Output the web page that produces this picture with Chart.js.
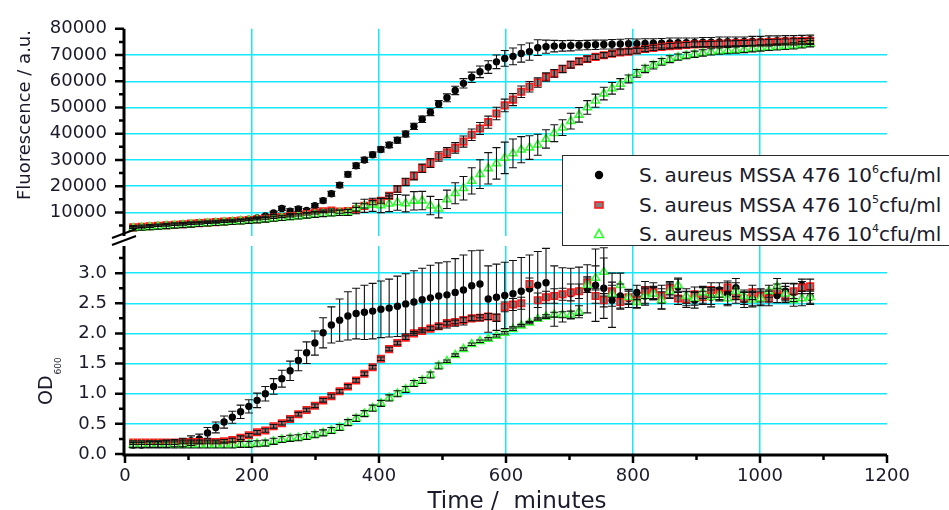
<!DOCTYPE html>
<html><head><meta charset="utf-8">
<script src="https://cdn.jsdelivr.net/npm/chart.js"></script>
<style>
html,body{margin:0;padding:0;background:#fff;}
#wrap{position:relative;width:949px;height:510px;overflow:hidden;background:#fff;font-family:"DejaVu Sans",sans-serif;}
#wrap canvas{position:absolute;left:0;top:0;}
#legend{position:absolute;left:562px;top:155px;width:420px;height:89px;border:1.5px solid #2a2a2a;background:#fff;}
.row{position:absolute;left:0;width:420px;height:24px;}
.row svg{position:absolute;left:28px;top:4px;}
.row span{position:absolute;left:76px;top:0;white-space:nowrap;font-size:20px;line-height:24px;color:#1a1a2a;}
.row sup{font-size:11px;vertical-align:9px;line-height:0;}
</style></head>
<body>
<div id="wrap">
  <canvas id="top" width="949" height="510"></canvas>
  <canvas id="bot" width="949" height="510"></canvas>
  <div id="legend"></div>
</div>
<script>
// ---------------- data ----------------
const timeMin = [13,26,39,52,65,78,91,104,117,130,
 143,156,169,182,195,208,221,234,247,260,
 273,286,299,312,325,338,351,364,377,390,
 403,416,429,442,455,468,481,494,507,520,
 533,546,559,572,585,598,611,624,637,650,
 663,676,689,702,715,728,741,754,767,780,
 793,806,819,832,845,858,871,884,897,910,
 923,936,949,962,975,988,1001,1014,1027,1040,
 1053,1066,1079];

const seriesNames = ['S. aureus MSSA 476 10', 'S. aureus MSSA 476 10', 'S. aureus MSSA 476 10'];
const seriesExp = ['6', '5', '4'];
const seriesUnit = 'cfu/ml';

// Fluorescence / a.u.
const fluor1e6 = [4200,4400,4600,4900,5100,5300,5500,5700,5900,6100,
 6300,6500,6700,7000,7400,7900,8600,9800,11500,10500,
 11300,10700,12600,14500,17100,20400,24500,27800,30000,32000,
 34000,35700,37500,39900,42800,45500,48200,51300,53700,56500,
 59200,61500,63600,65400,67400,68700,69500,70600,71300,72800,
 73200,73400,73500,73600,73700,73800,73900,74000,74100,74200,
 74300,74300,74400,74500,74500,74600,74700,74700,74800,74900,
 74900,75000,75100,75100,75200,75300,75300,75400,75500,75600,
 75600,75700,75800];
const fluor1e5 = [4300,4500,4700,4900,5100,5300,5500,5700,5900,6100,
 6300,6500,6700,6900,7100,7400,7700,8000,8300,8600,
 9000,9400,9900,10400,10700,10300,10500,11200,12500,13700,
 14400,16300,18900,21600,23900,26800,28800,31300,32800,34600,
 37000,39600,42000,44400,47700,50800,53000,56000,57900,59500,
 61600,63000,64700,66300,67600,68500,69300,69900,70500,71000,
 71300,71700,72300,72700,73100,73400,73600,73800,74000,74100,
 74200,74300,74400,74500,74600,74700,74800,74900,75000,75100,
 75200,75300,75400];
const fluor1e4 = [4000,4200,4400,4600,4800,5000,5200,5400,5600,5800,
 6000,6200,6400,6600,6800,7000,7300,7600,7900,8200,
 8500,8800,9100,9400,9600,9800,10000,11500,12500,12900,
 12700,13300,13800,13400,14400,14500,12600,11400,15000,17300,
 19200,22000,24600,26800,28700,30800,32500,33900,34700,35800,
 38000,40200,42300,44800,47200,50000,52600,55300,57300,59000,
 60900,63000,64700,66100,67400,68400,69200,69800,70300,70800,
 71200,71500,71700,71900,72100,72400,72700,72900,73100,73300,
 73500,73900,74300];
const fluorErr1e6 = [300,300,300,300,300,300,300,300,300,300,
 300,300,300,300,400,400,500,600,800,900,
 900,800,800,900,900,1000,1000,1000,1000,1000,
 1000,1000,1100,1100,1200,1200,1300,1300,1500,1600,
 1800,2000,2200,2400,2600,3000,3200,3300,3300,3000,
 2500,2200,2000,2000,1800,1800,1800,1700,1800,1800,
 1900,1800,1800,1700,1800,1900,1800,1800,1700,1800,
 1800,1900,1800,1800,1700,1800,1800,1900,1800,1800,
 1800,1800,1800];
const fluorErr1e5 = [300,300,300,300,300,300,300,300,300,300,
 300,300,300,300,300,300,300,300,300,300,
 400,400,500,500,600,600,600,700,800,800,
 900,1000,1200,1400,1500,1600,1700,1800,1900,2000,
 2100,2200,2300,2300,2400,2400,2300,2200,2000,1800,
 1600,1500,1400,1300,1200,1100,1000,1000,1000,1000,
 1000,1000,1000,1000,1000,1000,1000,1000,1000,1000,
 1000,1000,1000,1000,1000,1000,1000,1000,1000,1000,
 1000,1000,1000];
const fluorErr1e4 = [1000,1000,1000,1000,1000,1000,1000,1000,1000,1000,
 1000,1000,1000,1000,1000,1000,1000,1000,1000,1000,
 1000,1000,1000,1000,1000,1000,1200,2000,2500,2500,
 2800,3000,3000,3200,3500,3500,3500,3500,3500,4000,
 4500,5000,5500,6000,6000,6000,5500,5000,4500,4000,
 3500,3200,3000,3000,2800,2600,2500,2400,2200,2000,
 1500,1500,1400,1400,1300,1300,1200,1200,1200,1200,
 1200,1200,1200,1200,1200,1200,1200,1200,1200,1200,
 1200,1200,1200];

// OD600
const od1e6 = [0.15,0.15,0.16,0.16,0.17,0.18,0.19,0.22,0.25,0.35,
 0.44,0.53,0.61,0.70,0.79,0.89,1.00,1.12,1.25,1.38,
 1.55,1.68,1.84,2.01,2.14,2.22,2.29,2.33,2.35,2.37,
 2.40,2.42,2.45,2.49,2.52,2.56,2.59,2.62,2.64,2.68,
 2.72,2.79,2.82,2.57,2.60,2.63,2.66,2.70,2.74,2.80,
 2.84,2.62,2.64,2.66,2.70,2.74,2.80,2.75,2.55,2.62,
 2.58,2.68,2.62,2.70,2.60,2.72,2.77,2.58,2.55,2.62,
 2.60,2.72,2.66,2.76,2.56,2.58,2.60,2.62,2.63,2.70,
 2.68,2.80,2.60];
const od1e5 = [0.19,0.19,0.19,0.19,0.19,0.19,0.20,0.20,0.20,0.20,
 0.20,0.21,0.23,0.27,0.31,0.36,0.39,0.46,0.51,0.58,
 0.66,0.73,0.80,0.89,0.96,1.04,1.12,1.22,1.33,1.44,
 1.58,1.74,1.84,1.93,2.00,2.04,2.08,2.12,2.17,2.19,
 2.22,2.25,2.26,2.28,2.26,2.44,2.48,2.50,2.82,2.55,
 2.60,2.62,2.65,2.68,2.70,2.84,2.62,2.55,2.70,2.52,
 2.60,2.55,2.72,2.68,2.62,2.75,2.58,2.56,2.65,2.60,
 2.72,2.66,2.76,2.62,2.58,2.68,2.62,2.58,2.72,2.62,
 2.70,2.76,2.78];
const od1e4 = [0.15,0.15,0.15,0.15,0.15,0.15,0.15,0.15,0.15,0.15,
 0.15,0.15,0.15,0.16,0.16,0.17,0.18,0.21,0.24,0.26,
 0.27,0.29,0.32,0.35,0.39,0.44,0.52,0.59,0.67,0.76,
 0.84,0.93,1.00,1.07,1.17,1.22,1.31,1.46,1.54,1.64,
 1.74,1.82,1.87,1.91,1.96,2.01,2.07,2.13,2.18,2.24,
 2.28,2.31,2.31,2.31,2.36,2.80,2.92,3.02,2.65,2.80,
 2.60,2.52,2.62,2.66,2.55,2.70,2.80,2.62,2.58,2.68,
 2.60,2.64,2.58,2.70,2.62,2.56,2.58,2.70,2.78,2.66,
 2.55,2.58,2.60];
const odErr1e6 = [0.04,0.04,0.05,0.05,0.06,0.06,0.07,0.08,0.08,0.09,
 0.09,0.10,0.10,0.11,0.11,0.12,0.12,0.13,0.14,0.16,
 0.17,0.18,0.20,0.25,0.30,0.35,0.40,0.42,0.45,0.46,
 0.47,0.48,0.50,0.50,0.52,0.52,0.54,0.55,0.55,0.56,
 0.58,0.58,0.56,0.55,0.55,0.55,0.55,0.56,0.56,0.56,
 0.57,0.50,0.45,0.42,0.40,0.40,0.60,0.50,0.45,0.20,
 0.15,0.12,0.15,0.14,0.20,0.12,0.15,0.12,0.13,0.14,
 0.16,0.12,0.18,0.15,0.13,0.12,0.14,0.10,0.12,0.13,
 0.15,0.10,0.12];
const odErr1e5 = [0.03,0.03,0.03,0.03,0.03,0.03,0.03,0.03,0.03,0.03,
 0.03,0.03,0.03,0.03,0.03,0.03,0.03,0.03,0.03,0.03,
 0.03,0.03,0.03,0.03,0.03,0.03,0.03,0.03,0.03,0.03,
 0.03,0.03,0.03,0.03,0.03,0.03,0.03,0.03,0.03,0.03,
 0.04,0.04,0.05,0.05,0.06,0.08,0.10,0.10,0.10,0.12,
 0.10,0.12,0.10,0.14,0.12,0.10,0.12,0.11,0.10,0.12,
 0.10,0.12,0.14,0.10,0.12,0.11,0.10,0.13,0.12,0.10,
 0.12,0.10,0.11,0.12,0.10,0.12,0.10,0.12,0.10,0.11,
 0.12,0.10,0.12];
const odErr1e4 = [0.05,0.05,0.05,0.05,0.05,0.05,0.05,0.05,0.05,0.05,
 0.05,0.05,0.05,0.05,0.05,0.05,0.05,0.05,0.05,0.05,
 0.05,0.05,0.05,0.05,0.05,0.05,0.05,0.05,0.05,0.05,
 0.05,0.05,0.05,0.05,0.05,0.05,0.05,0.05,0.02,0.02,
 0.02,0.02,0.02,0.02,0.02,0.02,0.02,0.02,0.02,0.02,
 0.03,0.04,0.05,0.06,0.10,0.12,0.20,0.40,0.20,0.20,
 0.12,0.10,0.12,0.10,0.14,0.12,0.10,0.12,0.11,0.10,
 0.12,0.10,0.12,0.14,0.10,0.12,0.11,0.10,0.13,0.12,
 0.10,0.12,0.10];

const fluorTicks = [10000,20000,30000,40000,50000,60000,70000,80000];
const odTicks = [0,0.5,1.0,1.5,2.0,2.5,3.0];
const timeTicks = [0,200,400,600,800,1000,1200];

// ---------------- rendering ----------------
Chart.defaults.font.family = '"DejaVu Sans", sans-serif';
const GRID = 'rgb(20,232,250)';
const TXT = '#1a1a2a';

function pts(vals){ return timeMin.map((t,i)=>({x:t, y:vals[i]})); }

const errorBarPlugin = {
  id: 'errbars',
  afterDatasetsDraw(chart){
    const {ctx, chartArea:a} = chart;
    const ys = chart.scales.y;
    ctx.save();
    ctx.beginPath(); ctx.rect(a.left, a.top-2, a.right-a.left, a.bottom-a.top+4); ctx.clip();
    ctx.strokeStyle = '#111'; ctx.lineWidth = 1.1;
    chart.data.datasets.forEach((ds, di)=>{
      if(!ds.errors) return;
      const meta = chart.getDatasetMeta(di);
      meta.data.forEach((el, i)=>{
        const v = ds.data[i].y, e = ds.errors[i];
        const y1 = ys.getPixelForValue(v+e), y2 = ys.getPixelForValue(v-e);
        const x = el.x;
        ctx.beginPath();
        ctx.moveTo(x, y1); ctx.lineTo(x, y2);
        ctx.moveTo(x-4, y1); ctx.lineTo(x+4, y1);
        ctx.moveTo(x-4, y2); ctx.lineTo(x+4, y2);
        ctx.stroke();
      });
    });
    ctx.restore();
  }
};

function minorList(majors, min, max){
  const step = majors[1]-majors[0];
  const out = majors.map(v=>v-step/2).concat([majors[majors.length-1]+step/2]);
  return out.filter(v=>v>=min-1e-9 && v<=max+1e-9);
}

const axesPlugin = {
  id: 'axes',
  afterDraw(chart, args, o){
    const {ctx, chartArea:a} = chart;
    const xs = chart.scales.x, ys = chart.scales.y;
    const ax = a.left - 1;
    ctx.save();
    ctx.strokeStyle = '#000';
    ctx.lineWidth = 3;
    ctx.beginPath();
    ctx.moveTo(ax, a.top);
    ctx.lineTo(ax, o.xAxis ? a.bottom + 1.5 : a.bottom);
    ctx.stroke();
    ctx.lineWidth = 2.5;
    ctx.beginPath();
    o.yTicks.forEach(v=>{ const y = ys.getPixelForValue(v); ctx.moveTo(ax-9, y); ctx.lineTo(ax, y); });
    minorList(o.yTicks, ys.min, ys.max).forEach(v=>{ const y = ys.getPixelForValue(v); ctx.moveTo(ax-5, y); ctx.lineTo(ax, y); });
    ctx.stroke();
    if(o.breakMarks){
      ctx.lineWidth = 2;
      ctx.beginPath();
      ctx.moveTo(ax-12, a.bottom+2); ctx.lineTo(ax+12, a.bottom-7);
      ctx.moveTo(ax-12, a.bottom+9); ctx.lineTo(ax+12, a.bottom);
      ctx.stroke();
    }
    if(o.xAxis){
      const by = a.bottom + 1;
      ctx.lineWidth = 3;
      ctx.beginPath(); ctx.moveTo(ax-1.5, by); ctx.lineTo(a.right, by); ctx.stroke();
      ctx.lineWidth = 2.5;
      ctx.beginPath();
      timeTicks.forEach(v=>{ const x = xs.getPixelForValue(v); ctx.moveTo(x, by); ctx.lineTo(x, by+8); });
      minorList(timeTicks, xs.min, xs.max).forEach(v=>{ const x = xs.getPixelForValue(v); ctx.moveTo(x, by); ctx.lineTo(x, by+5); });
      ctx.stroke();
    }
    ctx.fillStyle = TXT;
    if(o.title === 'fluor'){
      ctx.save();
      ctx.translate(30, 115); ctx.rotate(-Math.PI/2);
      ctx.font = '18px "DejaVu Sans"'; ctx.textAlign = 'center'; ctx.textBaseline = 'alphabetic';
      ctx.fillText('Fluorescence / a.u.', 0, 0);
      ctx.restore();
    }
    if(o.title === 'od'){
      ctx.save();
      ctx.translate(52, 405); ctx.rotate(-Math.PI/2);
      ctx.font = '19px "DejaVu Sans"'; ctx.textAlign = 'left'; ctx.textBaseline = 'alphabetic';
      ctx.fillText('OD', 0, 0);
      const w = ctx.measureText('OD').width;
      ctx.font = '9px "DejaVu Sans"';
      ctx.fillText('600', w + 1, 9);
      ctx.restore();
      ctx.font = '23px "DejaVu Sans"'; ctx.textAlign = 'center'; ctx.textBaseline = 'alphabetic';
      ctx.fillText('Time /  minutes', 517, 508);
    }
    ctx.restore();
  }
};

function datasets(b, r, g, eb, er, eg){
  return [
    {data: pts(b), errors: eb, pointStyle: 'circle', pointRadius: 3.7, pointHoverRadius: 3.7,
     backgroundColor: '#000', borderColor: '#000', borderWidth: 0, showLine: false, order: 2},
    {data: pts(r), errors: er, pointStyle: 'rect', pointRadius: 4.6, pointHoverRadius: 4.6,
     backgroundColor: '#7f7f7f', borderColor: '#ff1a1a', borderWidth: 1.6, showLine: false, order: 1},
    {data: pts(g), errors: eg, pointStyle: 'triangle', pointRadius: 4.6, pointHoverRadius: 4.6,
     backgroundColor: '#ffffff', borderColor: '#33ff33', borderWidth: 1.6, showLine: false, order: 0}
  ];
}

function xScale(showLabels){
  return {
    type: 'linear', min: 0, max: 1200,
    afterBuildTicks: s => { s.ticks = timeTicks.map(v=>({value:v})); },
    afterFit: s => { s.height = showLabels ? 56 : 0; },
    ticks: {display: showLabels, autoSkip: false, maxRotation: 0, padding: 12, color: TXT,
            font: {size: 18}, callback: v => String(v)},
    grid: {drawTicks: false, lineWidth: 1.5,
           color: c => (c.tick && c.tick.value > 0 && c.tick.value < 1200) ? GRID : 'rgba(0,0,0,0)'},
    border: {display: false}
  };
}

new Chart(document.getElementById('top'), {
  type: 'scatter',
  data: {datasets: datasets(fluor1e6, fluor1e5, fluor1e4, fluorErr1e6, fluorErr1e5, fluorErr1e4)},
  options: {
    responsive: false, animation: false, devicePixelRatio: 1,
    layout: {padding: {left: 0, right: 62, top: 25, bottom: 274}},
    plugins: {legend: {display: false}, tooltip: {enabled: false},
              axes: {yTicks: fluorTicks, breakMarks: true, title: 'fluor'}},
    scales: {
      x: xScale(false),
      y: {min: 1000, max: 80000,
          afterBuildTicks: s => { s.ticks = fluorTicks.map(v=>({value:v})); },
          afterFit: s => { s.width = 125; },
          ticks: {autoSkip: false, padding: 18, color: TXT, font: {size: 18}, callback: v => String(v)},
          grid: {drawTicks: false, lineWidth: 1.5,
                 color: c => (c.tick && c.tick.value < 80000) ? GRID : 'rgba(0,0,0,0)'},
          border: {display: false}}
    }
  },
  plugins: [errorBarPlugin, axesPlugin]
});

new Chart(document.getElementById('bot'), {
  type: 'scatter',
  data: {datasets: datasets(od1e6, od1e5, od1e4, odErr1e6, odErr1e5, odErr1e4)},
  options: {
    responsive: false, animation: false, devicePixelRatio: 1,
    layout: {padding: {left: 0, right: 62, top: 246, bottom: 0}},
    plugins: {legend: {display: false}, tooltip: {enabled: false},
              axes: {yTicks: odTicks, xAxis: true, title: 'od'}},
    scales: {
      x: xScale(true),
      y: {min: 0, max: 3.45,
          afterBuildTicks: s => { s.ticks = odTicks.map(v=>({value:v})); },
          afterFit: s => { s.width = 125; },
          ticks: {autoSkip: false, padding: 18, color: TXT, font: {size: 18}, callback: v => Number(v).toFixed(1)},
          grid: {drawTicks: false, lineWidth: 1.5,
                 color: c => (c.tick && c.tick.value > 0) ? GRID : 'rgba(0,0,0,0)'},
          border: {display: false}}
    }
  },
  plugins: [errorBarPlugin, axesPlugin]
});

// legend (HTML text)
const markers = [
  '<svg width="16" height="16"><circle cx="8" cy="8" r="4.2" fill="#000"/></svg>',
  '<svg width="16" height="16"><rect x="4" y="5" width="8" height="6" fill="#808080" stroke="#ff1a1a" stroke-width="1.6"/></svg>',
  '<svg width="16" height="16"><polygon points="8,3.5 12.5,11.5 3.5,11.5" fill="#fff" stroke="#33ff33" stroke-width="1.6"/></svg>'
];
const rowTops = [7, 37, 66];
const leg = document.getElementById('legend');
seriesNames.forEach((n, i)=>{
  const row = document.createElement('div');
  row.className = 'row';
  row.style.top = rowTops[i] + 'px';
  row.innerHTML = markers[i] + '<span>' + n + '<sup>' + seriesExp[i] + '</sup>' + seriesUnit + '</span>';
  leg.appendChild(row);
});
</script>
</body></html>
